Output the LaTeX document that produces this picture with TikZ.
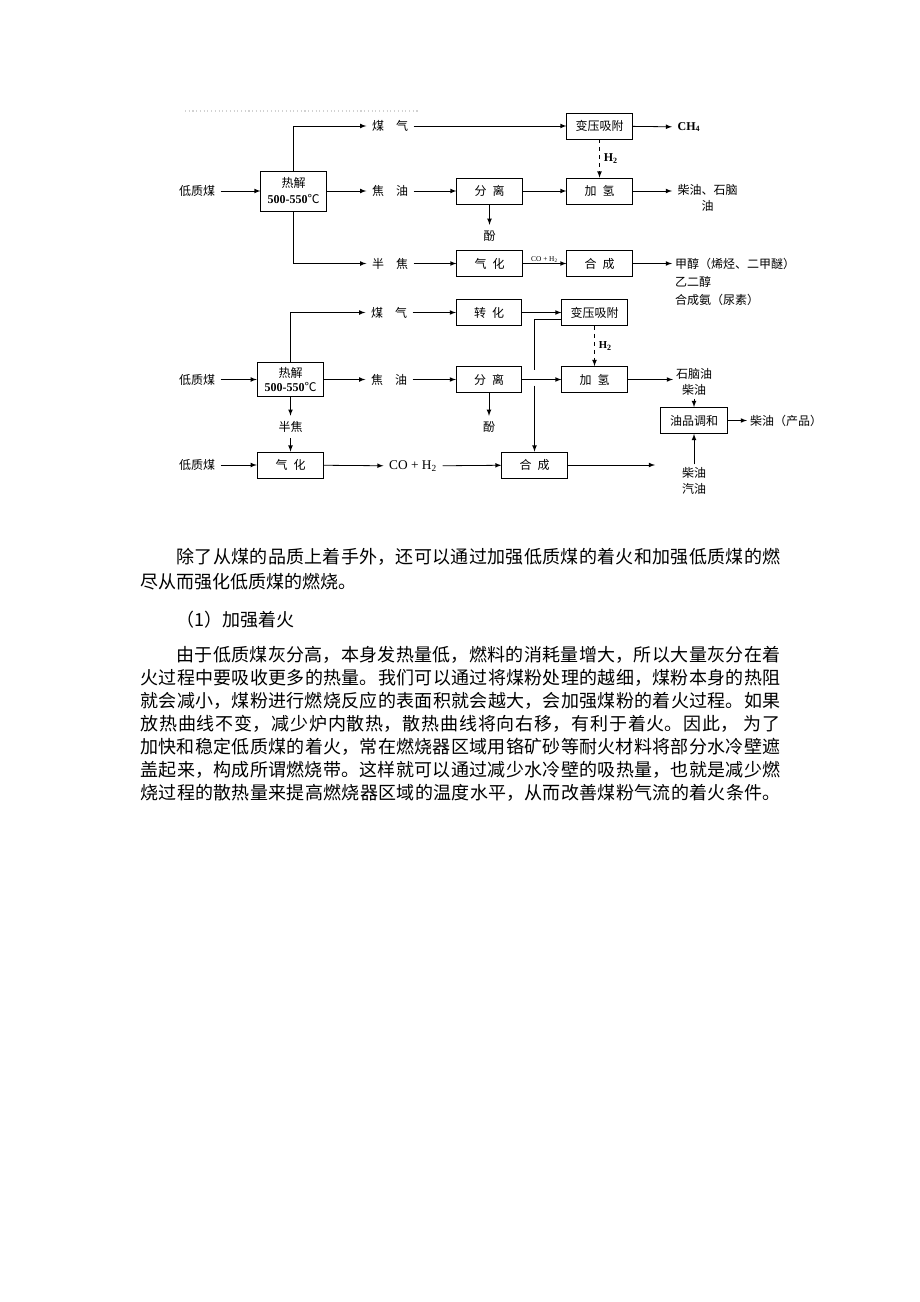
\documentclass[tikz,border=0pt]{standalone}
\usepackage{fontspec}
\setmainfont{Noto Sans CJK SC}
\newfontfamily\latfont{Liberation Serif}
\XeTeXlinebreaklocale "zh"
\XeTeXlinebreakskip=0pt plus 1.5pt minus 0.3pt

\tikzset{
	proc/.style={draw, line width=0.6pt, minimum width=49pt, minimum height=19.5pt, inner sep=1pt, align=center, font=\fontsize{9}{11}\selectfont},
	lbl/.style={inner sep=4pt, align=center, font=\fontsize{9}{12}\selectfont},
	prod/.style={anchor=west, inner sep=2pt, font=\fontsize{9}{12}\selectfont},
	fullline/.style={anchor=west, inner sep=0pt, text width=480pt, align=justify, font=\fontsize{13.5}{17}\selectfont, execute at begin node={\parfillskip=0pt\relax}},
	shortline/.style={anchor=west, inner sep=0pt, font=\fontsize{13.5}{17}\selectfont},
}

\begin{document}
\begin{tikzpicture}[x=0.75pt, y=-0.75pt, >=latex, line width=0.6pt]
		\useasboundingbox (0,0) rectangle (920,1302);

		% faint scan line
		\draw[gray!35, dotted, line width=0.8pt] (185,111) -- (418,111);

		% upper scheme
		\node[lbl] (in1) at (197,191) {低质煤};
		\node[proc, minimum height=30pt, font=\fontsize{9}{12}\selectfont] (pyro1) at (293.5,191) {热解\\{\latfont\bfseries 500-550}℃};
		\node[lbl] (gas1) at (390,126) {煤\quad 气};
		\node[lbl] (tar1) at (390,191) {焦\quad 油};
		\node[lbl] (coke1) at (390,263.5) {半\quad 焦};
		\node[proc] (psa1) at (599.5,126) {变压吸附};
		\node[lbl, anchor=west] (ch4) at (672,127) {\latfont\bfseries CH\textsubscript{4}};
		\node[proc] (sep1) at (489.5,191) {分\enspace 离};
		\node[lbl] (phe1) at (489.5,236) {酚};
		\node[proc] (hyd1) at (599.5,191) {加\enspace 氢};
		\node[lbl, anchor=north west] (oil1) at (672,179) {柴油、石脑\\油};
		\node[proc] (gasf1) at (489.5,263.5) {气\enspace 化};
		\node[proc] (syn1) at (599.5,263.5) {合\enspace 成};
		\node[prod] (prod1a) at (672,263.5) {甲醇（烯烃、二甲醚）};
		\node[prod] (prod1b) at (672,281.5) {乙二醇};
		\node[prod] (prod1c) at (672,299.5) {合成氨（尿素）};

		\draw[->] (in1) -- (pyro1);
		\draw[->] (pyro1.north) |- (gas1);
		\draw[->] (pyro1) -- (tar1);
		\draw[->] (pyro1.south) |- (coke1);
		\draw[->] (gas1) -- (psa1);
		\draw[->] (psa1) -- (ch4);
		\draw[->, dashed] (psa1) -- node[right, inner sep=3pt, font=\latfont\bfseries\fontsize{9}{10}\selectfont] {H\textsubscript{2}} (hyd1);
		\draw[->] (tar1) -- (sep1);
		\draw[->] (sep1) -- (phe1);
		\draw[->] (sep1) -- (hyd1);
		\draw[->] (hyd1) -- (hyd1 -| oil1.west);
		\draw[->] (coke1) -- (gasf1);
		\draw[->] (gasf1) -- node[above, inner sep=0.5pt, font=\latfont\fontsize{5.5}{6}\selectfont] {CO + H\textsubscript{2}} (syn1);
		\draw[->] (syn1) -- (prod1a);

		% lower scheme
		\node[lbl] (in2) at (197,379.5) {低质煤};
		\node[proc, minimum width=50pt, minimum height=26pt, font=\fontsize{9}{10.5}\selectfont] (pyro2) at (290.5,379.5) {热解\\{\latfont\bfseries 500-550}℃};
		\node[lbl] (gas2) at (389,312.5) {煤\quad 气};
		\node[lbl] (tar2) at (389,379.5) {焦\quad 油};
		\node[lbl] (coke2) at (290.5,427) {半焦};
		\node[lbl] (in3) at (197,465) {低质煤};
		\node[proc, minimum width=50pt] (gasf2) at (290.5,465) {气\enspace 化};
		\node[lbl, font=\latfont\fontsize{10}{12}\selectfont] (co2) at (413,466) {CO + H\textsubscript{2}};
		\node[proc] (conv) at (489,312.5) {转\enspace 化};
		\node[proc] (sep2) at (489,379.5) {分\enspace 离};
		\node[lbl] (phe2) at (489,427) {酚};
		\node[proc] (psa2) at (594.5,312.5) {变压吸附};
		\node[proc] (hyd2) at (594.5,379.5) {加\enspace 氢};
		\node[proc] (syn2) at (534.5,465) {合\enspace 成};
		\node[lbl, inner sep=2pt] (oil2) at (694,382) {石脑油\\柴油};
		\node[proc, minimum width=50pt] (blend) at (694,420.5) {油品调和};
		\node[lbl, inner sep=2pt] (prod2) at (786,420.5) {柴油（产品）};
		\node[lbl, inner sep=2pt] (fuel) at (694,481) {柴油\\汽油};
		\coordinate (out2) at (655,465);
		\coordinate (tap) at ([yshift=-5.5pt]psa2.west);
		\coordinate (cross) at (syn2.north |- sep2.east);

		\draw[->] (in2) -- (pyro2);
		\draw[->] (pyro2.north) |- (gas2);
		\draw[->] (pyro2) -- (tar2);
		\draw[->] (pyro2) -- (coke2);
		\draw[->] (coke2) -- (gasf2);
		\draw[->] (in3) -- (gasf2);
		\draw[->] (gasf2) -- (co2);
		\draw[->] (co2) -- (syn2);
		\draw[->] (syn2) -- (out2);
		\draw[->] (gas2) -- (conv);
		\draw[->] (conv) -- (psa2);
		\draw[->] (tar2) -- (sep2);
		\draw[->] (sep2) -- (phe2);
		\draw[->] (sep2) -- (hyd2);
		\draw[->, dashed] (psa2) -- node[right, inner sep=3pt, font=\latfont\bfseries\fontsize{8}{9}\selectfont] {H\textsubscript{2}} (hyd2);
		\draw (tap) -| ([yshift=7pt]cross);
		\draw[->] ([yshift=-4.5pt]cross) -- (syn2.north);
		\draw[->] (hyd2) -- (hyd2 -| oil2.west);
		\draw[->] (oil2) -- (blend);
		\draw[->] (blend) -- (prod2);
		\draw[->] (fuel) -- (blend);

		% text below
		\node[fullline] (p1a) at (140,557) {\hspace*{2em}除了从煤的品质上着手外，还可以通过加强低质煤的着火和加强低质煤的燃};
		\node[shortline] (p1b) at (140,582) {尽从而强化低质煤的燃烧。};
		\node[shortline] (head) at (140,620) {\hspace*{2em}（1）加强着火};
		\node[fullline] (p2a) at (140,655) {\hspace*{2em}由于低质煤灰分高，本身发热量低，燃料的消耗量增大，所以大量灰分在着};
		\node[fullline] (p2b) at (140,678) {火过程中要吸收更多的热量。我们可以通过将煤粉处理的越细，煤粉本身的热阻};
		\node[fullline] (p2c) at (140,701) {就会减小，煤粉进行燃烧反应的表面积就会越大，会加强煤粉的着火过程。如果};
		\node[fullline] (p2d) at (140,724) {放热曲线不变，减少炉内散热，散热曲线将向右移，有利于着火。因此， 为了};
		\node[fullline] (p2e) at (140,747) {加快和稳定低质煤的着火，常在燃烧器区域用铬矿砂等耐火材料将部分水冷壁遮};
		\node[fullline] (p2f) at (140,770) {盖起来，构成所谓燃烧带。这样就可以通过减少水冷壁的吸热量，也就是减少燃};
		\node[fullline] (p2g) at (140,793) {烧过程的散热量来提高燃烧器区域的温度水平，从而改善煤粉气流的着火条件。};
	\end{tikzpicture}
\end{document}
